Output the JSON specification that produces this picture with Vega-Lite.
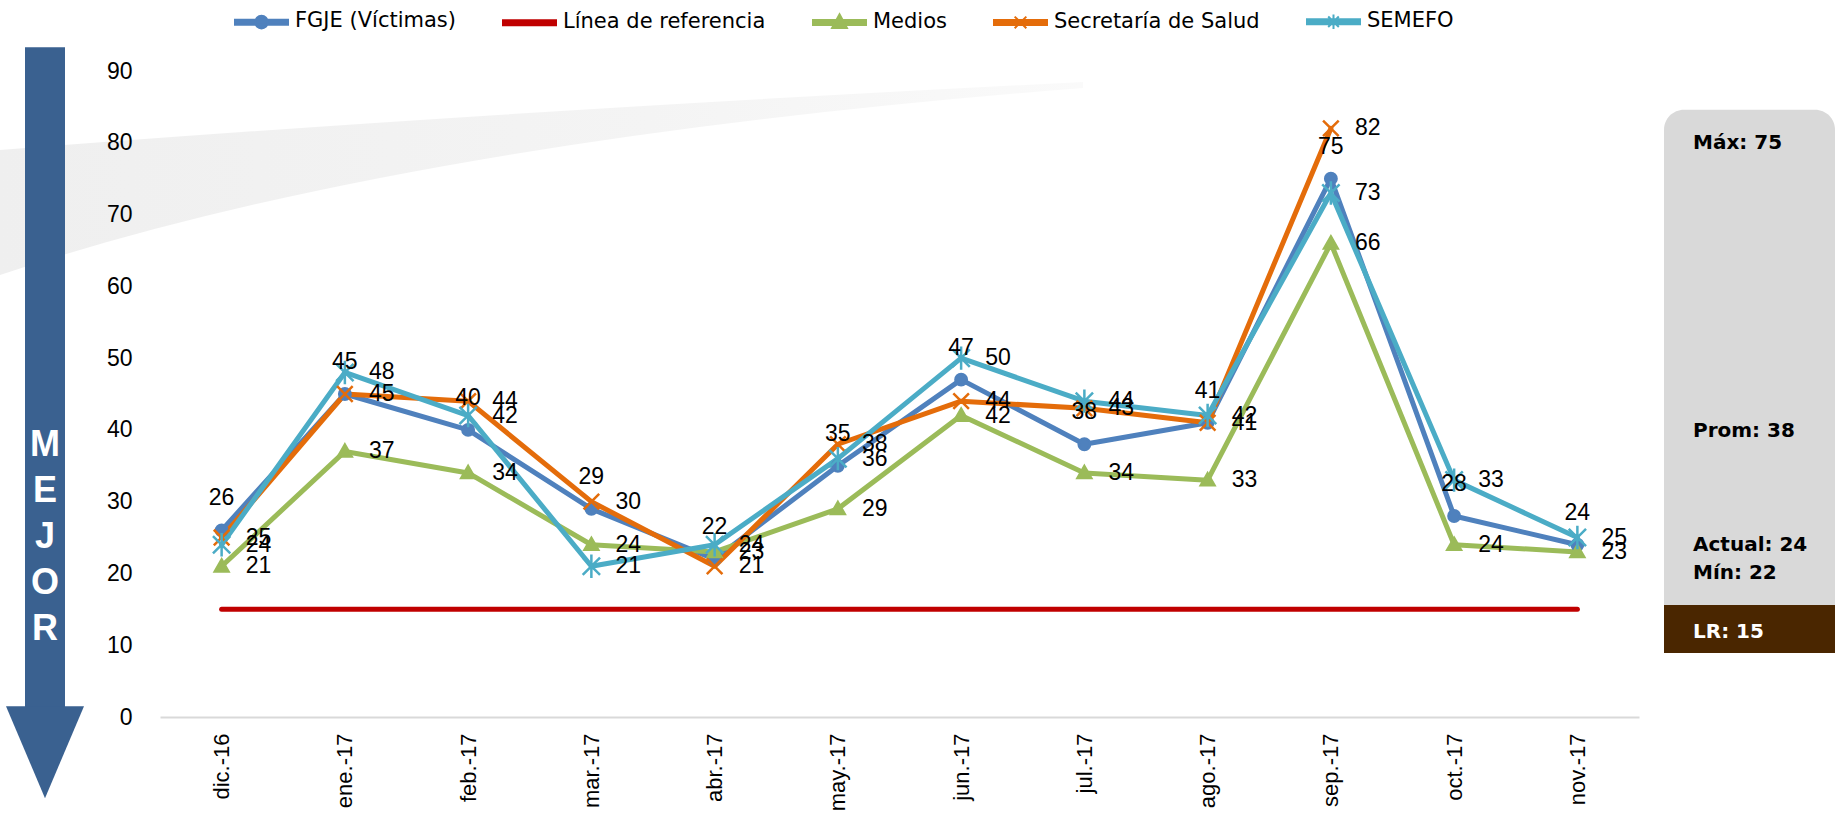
{
  "$schema": "https://vega.github.io/schema/vega-lite/v6.json",
  "padding": 0,
  "background": "white",
  "bounds": "flush",
  "spacing": 25,
  "config": {"view": {"stroke": null}},
  "datasets": {
    "series": [
      {"mes": "dic.-16", "serie": "FGJE (Víctimas)", "valor": 26},
      {"mes": "ene.-17", "serie": "FGJE (Víctimas)", "valor": 45},
      {"mes": "feb.-17", "serie": "FGJE (Víctimas)", "valor": 40},
      {"mes": "mar.-17", "serie": "FGJE (Víctimas)", "valor": 29},
      {"mes": "abr.-17", "serie": "FGJE (Víctimas)", "valor": 22},
      {"mes": "may.-17", "serie": "FGJE (Víctimas)", "valor": 35},
      {"mes": "jun.-17", "serie": "FGJE (Víctimas)", "valor": 47},
      {"mes": "jul.-17", "serie": "FGJE (Víctimas)", "valor": 38},
      {"mes": "ago.-17", "serie": "FGJE (Víctimas)", "valor": 41},
      {"mes": "sep.-17", "serie": "FGJE (Víctimas)", "valor": 75},
      {"mes": "oct.-17", "serie": "FGJE (Víctimas)", "valor": 28},
      {"mes": "nov.-17", "serie": "FGJE (Víctimas)", "valor": 24},
      {"mes": "dic.-16", "serie": "Línea de referencia", "valor": 15},
      {"mes": "ene.-17", "serie": "Línea de referencia", "valor": 15},
      {"mes": "feb.-17", "serie": "Línea de referencia", "valor": 15},
      {"mes": "mar.-17", "serie": "Línea de referencia", "valor": 15},
      {"mes": "abr.-17", "serie": "Línea de referencia", "valor": 15},
      {"mes": "may.-17", "serie": "Línea de referencia", "valor": 15},
      {"mes": "jun.-17", "serie": "Línea de referencia", "valor": 15},
      {"mes": "jul.-17", "serie": "Línea de referencia", "valor": 15},
      {"mes": "ago.-17", "serie": "Línea de referencia", "valor": 15},
      {"mes": "sep.-17", "serie": "Línea de referencia", "valor": 15},
      {"mes": "oct.-17", "serie": "Línea de referencia", "valor": 15},
      {"mes": "nov.-17", "serie": "Línea de referencia", "valor": 15},
      {"mes": "dic.-16", "serie": "Medios", "valor": 21},
      {"mes": "ene.-17", "serie": "Medios", "valor": 37},
      {"mes": "feb.-17", "serie": "Medios", "valor": 34},
      {"mes": "mar.-17", "serie": "Medios", "valor": 24},
      {"mes": "abr.-17", "serie": "Medios", "valor": 23},
      {"mes": "may.-17", "serie": "Medios", "valor": 29},
      {"mes": "jun.-17", "serie": "Medios", "valor": 42},
      {"mes": "jul.-17", "serie": "Medios", "valor": 34},
      {"mes": "ago.-17", "serie": "Medios", "valor": 33},
      {"mes": "sep.-17", "serie": "Medios", "valor": 66},
      {"mes": "oct.-17", "serie": "Medios", "valor": 24},
      {"mes": "nov.-17", "serie": "Medios", "valor": 23},
      {"mes": "dic.-16", "serie": "Secretaría de Salud", "valor": 25},
      {"mes": "ene.-17", "serie": "Secretaría de Salud", "valor": 45},
      {"mes": "feb.-17", "serie": "Secretaría de Salud", "valor": 44},
      {"mes": "mar.-17", "serie": "Secretaría de Salud", "valor": 30},
      {"mes": "abr.-17", "serie": "Secretaría de Salud", "valor": 21},
      {"mes": "may.-17", "serie": "Secretaría de Salud", "valor": 38},
      {"mes": "jun.-17", "serie": "Secretaría de Salud", "valor": 44},
      {"mes": "jul.-17", "serie": "Secretaría de Salud", "valor": 43},
      {"mes": "ago.-17", "serie": "Secretaría de Salud", "valor": 41},
      {"mes": "sep.-17", "serie": "Secretaría de Salud", "valor": 82},
      {"mes": "dic.-16", "serie": "SEMEFO", "valor": 24},
      {"mes": "ene.-17", "serie": "SEMEFO", "valor": 48},
      {"mes": "feb.-17", "serie": "SEMEFO", "valor": 42},
      {"mes": "mar.-17", "serie": "SEMEFO", "valor": 21},
      {"mes": "abr.-17", "serie": "SEMEFO", "valor": 24},
      {"mes": "may.-17", "serie": "SEMEFO", "valor": 36},
      {"mes": "jun.-17", "serie": "SEMEFO", "valor": 50},
      {"mes": "jul.-17", "serie": "SEMEFO", "valor": 44},
      {"mes": "ago.-17", "serie": "SEMEFO", "valor": 42},
      {"mes": "sep.-17", "serie": "SEMEFO", "valor": 73},
      {"mes": "oct.-17", "serie": "SEMEFO", "valor": 33},
      {"mes": "nov.-17", "serie": "SEMEFO", "valor": 25}
    ],
    "stats": [
      {"etiqueta": "Máx: 75", "valor": 75},
      {"etiqueta": "Prom: 38", "valor": 38},
      {"etiqueta": "Actual: 24", "valor": 24},
      {"etiqueta": "Mín: 22", "valor": 22},
      {"etiqueta": "LR: 15", "valor": 15}
    ]
  },
  "hconcat": [
    {
      "width": 135,
      "height": 646,
      "data": {"values": [{}]},
      "layer": [
        {
          "mark": {"type": "point", "shape": "M0,79 Q500,40 1083,11 L1083,17 Q400,70 0,204 Z", "size": 4, "filled": true, "opacity": 1, "strokeWidth": 0,
            "fill": {"gradient": "linear", "x1": 0, "y1": 0, "x2": 1, "y2": 0, "stops": [{"offset": 0, "color": "#EFEFEF"}, {"offset": 0.6, "color": "#F4F4F4"}, {"offset": 1, "color": "#FAFAFA"}]}},
          "encoding": {
            "x": {"datum": 0, "type": "quantitative", "scale": {"domain": [0, 135], "nice": false, "zero": false}, "axis": null},
            "y": {"datum": 90, "type": "quantitative", "scale": {"domain": [0, 90], "nice": false, "zero": false}, "axis": null}
          }
        },
        {
          "mark": {"type": "rect", "color": "#3A6190"},
          "encoding": {
            "x": {"datum": 25, "type": "quantitative"},
            "x2": {"datum": 65},
            "y": {"datum": 93.3, "type": "quantitative"},
            "y2": {"datum": 1.0}
          }
        },
        {
          "mark": {"type": "point", "shape": "M-1,-1.18L1,-1.18L0,1.18Z", "size": 6084, "filled": true, "color": "#3A6190", "opacity": 1},
          "encoding": {
            "x": {"datum": 45, "type": "quantitative"},
            "y": {"datum": -4.9, "type": "quantitative"}
          }
        },
        {
          "mark": {"type": "text", "text": ["M", "E", "J", "O", "R"], "lineHeight": 46, "font": "Liberation Sans", "fontWeight": "bold", "fontSize": 36, "color": "white", "align": "center", "baseline": "middle"},
          "encoding": {
            "x": {"datum": 45, "type": "quantitative"},
            "y": {"datum": 37.9, "type": "quantitative"}
          }
        }
      ]
    },
    {
      "width": 1479,
      "height": 646,
      "data": {"name": "series"},
      "encoding": {
        "x": {
          "field": "mes", "type": "ordinal",
          "scale": {"type": "point", "padding": 0.5, "domain": ["dic.-16", "ene.-17", "feb.-17", "mar.-17", "abr.-17", "may.-17", "jun.-17", "jul.-17", "ago.-17", "sep.-17", "oct.-17", "nov.-17"]},
          "axis": {"title": null, "labelAngle": 270, "labelFont": "Liberation Sans", "labelFontSize": 22, "labelColor": "#000000", "labelPadding": 16, "ticks": false, "domainColor": "#D9D9D9", "domainWidth": 2, "grid": false}
        },
        "y": {
          "field": "valor", "type": "quantitative",
          "scale": {"domain": [0, 90], "nice": false, "zero": true},
          "axis": {"title": null, "values": [0, 10, 20, 30, 40, 50, 60, 70, 80, 90], "labelFont": "Liberation Sans", "labelFontSize": 23, "labelColor": "#000000", "labelPadding": 28, "ticks": false, "domain": false, "grid": false}
        }
      },
      "layer": [
        {
          "mark": {"type": "line", "strokeWidth": 5, "strokeJoin": "round", "strokeCap": "round"},
          "encoding": {
            "color": {
              "field": "serie", "type": "nominal",
              "scale": {"domain": ["FGJE (Víctimas)", "Línea de referencia", "Medios", "Secretaría de Salud", "SEMEFO"], "range": ["#4F81BD", "#C00000", "#9BBB59", "#E46C0A", "#4BACC6"]},
              "legend": {
                "orient": "none", "legendX": 234, "legendY": -71, "direction": "horizontal", "columns": 5, "title": null,
                "columnPadding": 43, "labelOffset": 6, "labelFont": "DejaVu Sans", "labelFontSize": 21, "labelColor": "#000000", "labelLimit": 400,
                "symbolSize": 2809, "symbolStrokeWidth": 2,
                "encode": {
                  "symbols": {"update": {
                    "shape": {"signal": "datum.value === 'FGJE (Víctimas)' ? 'M-1,-0.315L1,-0.315L1,-0.125L-1,-0.125ZM-0.24,-0.22A0.24,0.24,0,1,1,0.24,-0.22A0.24,0.24,0,1,1,-0.24,-0.22Z' : datum.value === 'Medios' ? 'M-1,-0.315L1,-0.315L1,-0.125L-1,-0.125ZM0,-0.53L0.28,-0.01L-0.28,-0.01Z' : datum.value === 'Secretaría de Salud' ? 'M-1,-0.315L1,-0.315L1,-0.125L-1,-0.125ZM-0.22,-0.44L0.22,0M0.22,-0.44L-0.22,0' : datum.value === 'SEMEFO' ? 'M-1,-0.315L1,-0.315L1,-0.125L-1,-0.125ZM-0.2,-0.42L0.2,-0.02M0.2,-0.42L-0.2,-0.02M0,-0.49L0,0.05' : 'M-1,-0.315L1,-0.315L1,-0.125L-1,-0.125Z'"},
                    "fill": {"signal": "scale('color', datum.value)"},
                    "stroke": {"signal": "scale('color', datum.value)"},
                    "opacity": {"value": 1}
                  }},
                  "labels": {"update": {"dy": {"value": -6.5}}}
                }
              }
            }
          }
        },
        {
          "transform": [{"filter": "datum.serie !== 'Línea de referencia'"}],
          "mark": {"type": "point", "opacity": 1, "strokeWidth": 2.5, "filled": true},
          "encoding": {
            "shape": {"field": "serie", "type": "nominal", "legend": null,
              "scale": {"domain": ["FGJE (Víctimas)", "Medios", "Secretaría de Salud", "SEMEFO"], "range": ["circle", "M0,-1L1,0.75L-1,0.75Z", "M-1,-1L1,1M1,-1L-1,1", "M-1,-1L1,1M1,-1L-1,1M0,-1.35L0,1.35"]}},
            "size": {"field": "serie", "type": "nominal", "legend": null,
              "scale": {"domain": ["FGJE (Víctimas)", "Medios", "Secretaría de Salud", "SEMEFO"], "range": [130, 300, 400, 400]}},
            "fill": {"field": "serie", "type": "nominal", "legend": null,
              "scale": {"domain": ["FGJE (Víctimas)", "Medios", "Secretaría de Salud", "SEMEFO"], "range": ["#4F81BD", "#9BBB59", "#E46C0A", "#4BACC6"]}},
            "stroke": {"field": "serie", "type": "nominal", "legend": null,
              "scale": {"domain": ["FGJE (Víctimas)", "Medios", "Secretaría de Salud", "SEMEFO"], "range": ["#4F81BD", "#9BBB59", "#E46C0A", "#4BACC6"]}}
          }
        },
        {
          "transform": [{"filter": "datum.serie === 'FGJE (Víctimas)'"}],
          "mark": {"type": "text", "dy": -32, "font": "Liberation Sans", "fontSize": 23, "color": "#000000", "align": "center", "baseline": "middle"},
          "encoding": {"text": {"field": "valor", "type": "quantitative"}}
        },
        {
          "transform": [{"filter": "datum.serie === 'Medios' || datum.serie === 'Secretaría de Salud' || datum.serie === 'SEMEFO'"}],
          "mark": {"type": "text", "dx": 24, "font": "Liberation Sans", "fontSize": 23, "color": "#000000", "align": "left", "baseline": "middle"},
          "encoding": {"text": {"field": "valor", "type": "quantitative"}}
        }
      ]
    },
    {
      "width": 171,
      "height": 646,
      "data": {"name": "stats"},
      "layer": [
        {
          "data": {"values": [{}]},
          "mark": {"type": "rect", "color": "#D9D9D9", "cornerRadiusTopLeft": 20, "cornerRadiusTopRight": 20},
          "encoding": {
            "x": {"datum": 0, "type": "quantitative", "scale": {"domain": [0, 171], "nice": false, "zero": false}, "axis": null},
            "x2": {"datum": 171},
            "y": {"datum": 84.6, "type": "quantitative", "scale": {"domain": [0, 90], "nice": false, "zero": false}, "axis": null},
            "y2": {"datum": 15.6}
          }
        },
        {
          "data": {"values": [{}]},
          "mark": {"type": "rect", "color": "#4A2600"},
          "encoding": {
            "x": {"datum": 0, "type": "quantitative"},
            "x2": {"datum": 171},
            "y": {"datum": 15.6, "type": "quantitative"},
            "y2": {"datum": 8.9}
          }
        },
        {
          "transform": [{"filter": "datum.etiqueta === 'Máx: 75'"}],
          "mark": {"type": "text", "dy": -36, "align": "left", "baseline": "middle", "font": "DejaVu Sans", "fontWeight": "bold", "fontSize": 20, "color": "#000000"},
          "encoding": {"x": {"datum": 29, "type": "quantitative"}, "y": {"field": "valor", "type": "quantitative"}, "text": {"field": "etiqueta"}}
        },
        {
          "transform": [{"filter": "datum.etiqueta === 'Prom: 38'"}],
          "mark": {"type": "text", "dy": -13, "align": "left", "baseline": "middle", "font": "DejaVu Sans", "fontWeight": "bold", "fontSize": 20, "color": "#000000"},
          "encoding": {"x": {"datum": 29, "type": "quantitative"}, "y": {"field": "valor", "type": "quantitative"}, "text": {"field": "etiqueta"}}
        },
        {
          "transform": [{"filter": "datum.etiqueta === 'Actual: 24'"}],
          "mark": {"type": "text", "dy": 0, "align": "left", "baseline": "middle", "font": "DejaVu Sans", "fontWeight": "bold", "fontSize": 20, "color": "#000000"},
          "encoding": {"x": {"datum": 29, "type": "quantitative"}, "y": {"field": "valor", "type": "quantitative"}, "text": {"field": "etiqueta"}}
        },
        {
          "transform": [{"filter": "datum.etiqueta === 'Mín: 22'"}],
          "mark": {"type": "text", "dy": 14, "align": "left", "baseline": "middle", "font": "DejaVu Sans", "fontWeight": "bold", "fontSize": 20, "color": "#000000"},
          "encoding": {"x": {"datum": 29, "type": "quantitative"}, "y": {"field": "valor", "type": "quantitative"}, "text": {"field": "etiqueta"}}
        },
        {
          "transform": [{"filter": "datum.etiqueta === 'LR: 15'"}],
          "mark": {"type": "text", "dy": 23, "align": "left", "baseline": "middle", "font": "DejaVu Sans", "fontWeight": "bold", "fontSize": 20, "color": "#FFFFFF"},
          "encoding": {"x": {"datum": 29, "type": "quantitative"}, "y": {"field": "valor", "type": "quantitative"}, "text": {"field": "etiqueta"}}
        }
      ]
    }
  ]
}
